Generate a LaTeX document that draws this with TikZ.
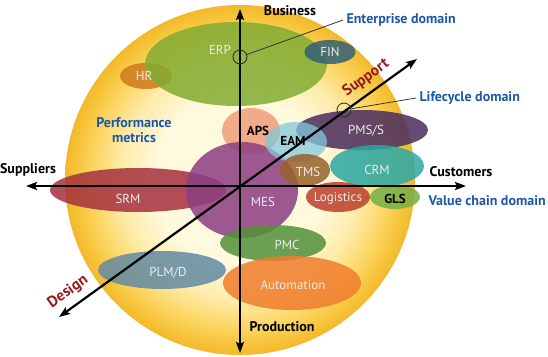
\documentclass[tikz,border=0pt]{standalone}
\usepackage{fontspec}
\setmainfont{PT Sans}
\usetikzlibrary{arrows.meta,shapes.geometric}
\definecolor{pale}{RGB}{255,249,222}
\definecolor{lightgold}{RGB}{255,236,172}
\definecolor{midgold}{RGB}{252,214,100}
\definecolor{gold}{RGB}{247,196,58}
\definecolor{rimgold}{RGB}{242,184,44}
\definecolor{cERP}{RGB}{130,172,50}
\definecolor{cHR}{RGB}{205,122,28}
\definecolor{cFIN}{RGB}{50,96,118}
\definecolor{cAPS}{RGB}{240,158,122}
\definecolor{cEAM}{RGB}{130,200,218}
\definecolor{cPMS}{RGB}{72,44,94}
\definecolor{cCRM}{RGB}{42,168,165}
\definecolor{cTMS}{RGB}{150,98,42}
\definecolor{cMES}{RGB}{140,62,130}
\definecolor{cSRM}{RGB}{165,48,62}
\definecolor{cLOG}{RGB}{188,62,42}
\definecolor{cGLS}{RGB}{118,175,72}
\definecolor{cPMC}{RGB}{82,145,58}
\definecolor{cAUT}{RGB}{240,125,45}
\definecolor{cPLM}{RGB}{98,138,162}
\definecolor{dblue}{RGB}{28,88,170}
\definecolor{dred}{RGB}{150,28,28}
\definecolor{lbl}{RGB}{236,236,236}
\pgfdeclareradialshading{sphere}{\pgfpoint{0bp}{0bp}}{%
  color(0bp)=(pale); color(12bp)=(pale); color(17bp)=(lightgold);
  color(21bp)=(midgold); color(23.5bp)=(gold); color(25bp)=(rimgold); color(50bp)=(rimgold)}
\tikzset{
  blob/.style={ellipse, inner sep=0pt, fill opacity=0.85, draw=none},
  lab/.style={font=\fontsize{13}{14}\selectfont, text=lbl},
  dlab/.style={font=\fontsize{13}{14}\selectfont\bfseries, text=black},
  axislab/.style={font=\fontsize{14}{15}\selectfont\bfseries, text=black},
  domlab/.style={font=\fontsize{14}{15}\selectfont\bfseries, text=dblue},
  dirlab/.style={font=\fontsize{15.5}{17}\selectfont\bfseries, text=dred, inner sep=0pt},
  axis/.style={line width=2.2pt, draw=black, {Stealth[length=11pt,width=8pt,inset=2pt]}-{Stealth[length=11pt,width=8pt,inset=2pt]}},
  ring/.style={circle, draw=black!85, line width=0.8pt, minimum size=14pt, inner sep=0pt},
  lead/.style={draw=black!80, line width=0.8pt}
}
\begin{document}
\begin{tikzpicture}[x=1pt,y=-1pt]
\useasboundingbox (0,0) rectangle (548,356);
% sphere
\node[circle, minimum size=350pt, inner sep=0pt, shading=sphere] (sphere) at (240,180) {};
% ellipses
\node[blob, fill=cHR, minimum width=52pt, minimum height=26pt] (hr) at (146,76) {};
\node[blob, fill=cERP, minimum width=182pt, minimum height=84pt] (erp) at (236,64) {};
\node[blob, fill=cFIN, minimum width=51pt, minimum height=24pt] (fin) at (330,52) {};
\node[blob, fill=cAPS, minimum width=58pt, minimum height=46pt] (aps) at (251,131) {};
\node[blob, fill=cSRM, minimum width=176pt, minimum height=44pt] (srm) at (138,190) {};
\node[blob, fill=cMES, minimum width=112pt, minimum height=96pt] (mes) at (242,190) {};
\node[blob, fill=cPMS, minimum width=132pt, minimum height=40pt] (pms) at (362,130) {};
\node[blob, fill=cEAM, fill opacity=0.75, minimum width=62pt, minimum height=40pt] (eam) at (296,142) {};
\node[blob, fill=cTMS, minimum width=50pt, minimum height=32pt] (tms) at (305,170) {};
\node[blob, fill=cCRM, minimum width=94pt, minimum height=42pt] (crm) at (377,166) {};
\node[blob, fill=cLOG, minimum width=64pt, minimum height=30pt] (log) at (338,197) {};
\node[blob, fill=cGLS, minimum width=50pt, minimum height=24pt] (gls) at (395,197) {};
\node[blob, fill=cPMC, minimum width=106pt, minimum height=36pt] (pmc) at (273,243) {};
\node[blob, fill=cAUT, minimum width=138pt, minimum height=54pt] (aut) at (292,283) {};
\node[blob, fill=cPLM, minimum width=128pt, minimum height=38pt] (plm) at (162,270) {};
% ellipse labels
\node[lab] (tERP) at (220,50) {ERP};
\node[lab] (tHR) at (144,76) {HR};
\node[lab] (tFIN) at (330,52) {FIN};
\node[dlab] (tAPS) at (258,131) {APS};
\node[dlab] (tEAM) at (293,141) {EAM};
\node[lab] (tPMS) at (366,131) {PMS/S};
\node[lab] (tCRM) at (377,170) {CRM};
\node[lab] (tTMS) at (308,172) {TMS};
\node[lab] (tMES) at (263,202) {MES};
\node[lab] (tSRM) at (128,199) {SRM};
\node[lab] (tLOG) at (338,198) {Logistics};
\node[dlab] (tGLS) at (395,199) {GLS};
\node[lab] (tPMC) at (287,245) {PMC};
\node[lab] (tAUT) at (293,285) {Automation};
\node[lab] (tPLM) at (168,273) {PLM/D};
% axes
\coordinate (O) at (240,186);
\coordinate (top) at (240,9);
\coordinate (bot) at (240,353);
\coordinate (lft) at (26,186);
\coordinate (rgt) at (466,186);
\coordinate (dll) at (59,317);
\coordinate (dur) at (417,59);
\draw[axis] (bot) -- (top);
\draw[axis] (lft) -- (rgt);
\draw[axis] (dll) -- (dur);
% axis labels
\node[axislab] (business) at (290,11) {Business};
\node[axislab] (production) at (282,327) {Production};
\node[axislab] (suppliers) at (28,170) {Suppliers};
\node[axislab] (customers) at (461,172) {Customers};
\node[dirlab, rotate=35.7] (support) at (366,78) {Support};
\node[dirlab, rotate=35.7] (design) at (68,292) {Design};
% domain labels
\node[domlab] (pm) at (134,130) [align=center] {Performance\\metrics};
\node[domlab, anchor=west] (ent) at (343,20) {Enterprise domain};
\node[domlab, anchor=west] (life) at (416,98) {Lifecycle domain};
\node[domlab, anchor=west] (vcd) at (425,201) {Value chain domain};
% rings and leaders
\node[ring] (r1) at (240,57) {};
\node[ring] (r2) at (344,110) {};
\draw[lead] (r1) -- (ent.west);
\draw[lead] (r2) -- (life.west);
\end{tikzpicture}
\end{document}
